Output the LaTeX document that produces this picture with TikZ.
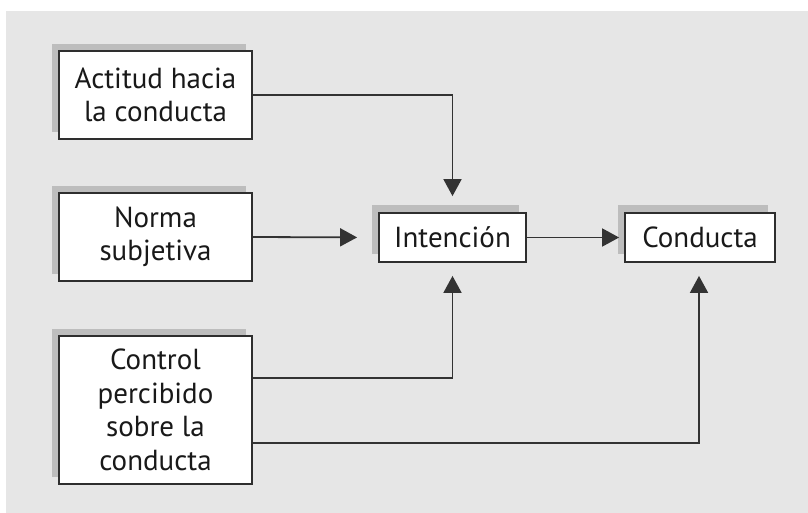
\documentclass[tikz,border=0pt]{standalone}
\usepackage{fontspec}
\setmainfont{PT Sans}
\usetikzlibrary{arrows.meta,calc}
\definecolor{panel}{HTML}{E6E6E6}
\definecolor{shade}{HTML}{BDBDBD}
\definecolor{edge}{HTML}{2E2E2E}
\definecolor{wire}{HTML}{333333}
\tikzset{
  factor/.style={draw=edge, line width=1.8pt, fill=white, inner sep=0pt,
    align=center, font=\fontsize{29}{33.5}\selectfont, text=black!90,
    minimum width=193pt, minimum height=88pt},
  smallbox/.style={factor, minimum width=147pt, minimum height=49pt},
  dropshade/.style={fill=shade, draw=none},
  link/.style={draw=wire, line width=1.8pt, -{Triangle[width=18pt,length=17pt]}}
}
\begin{document}
\begin{tikzpicture}[x=1pt,y=-1pt]
  \useasboundingbox (0,0) rectangle (808,513);
  \fill[white] (0,0) rectangle (808,513);
  \fill[panel] (6,11) rectangle (808,513);

  % shadows behind the boxes
  \fill[dropshade] (52,44) rectangle (246,132);
  \fill[dropshade] (52,186) rectangle (246,274);
  \fill[dropshade] (52,329) rectangle (246,477);
  \fill[dropshade] (372,205) rectangle (519,254);
  \fill[dropshade] (618,205) rectangle (768,254);

  % boxes
  \node[factor] (act) at (155.5,95) {Actitud hacia\\la conducta};
  \node[factor] (norm) at (155.5,237) {Norma\\subjetiva};
  \node[factor, minimum height=148pt] (ctl) at (155.5,410) {Control\\percibido\\sobre la\\conducta};
  \node[smallbox] (int) at (452.5,237.5) {Intención};
  \node[smallbox, minimum width=150pt] (cond) at (700,237.5) {Conducta};

  % connectors
  \draw[link, shorten >=16pt] (act.east) -| (int.north);
  \draw[link, shorten >=21pt] (norm.east) -- (int.west);
  \draw[link, shorten >=5pt] (int.east) -- (cond.west);
  \draw[link, shorten >=13pt] ([yshift=32pt]ctl.east) -| (int.south);
  \draw[link, shorten >=13pt] ([yshift=-33pt]ctl.east) -| ([xshift=-1pt]cond.south);
\end{tikzpicture}
\end{document}
